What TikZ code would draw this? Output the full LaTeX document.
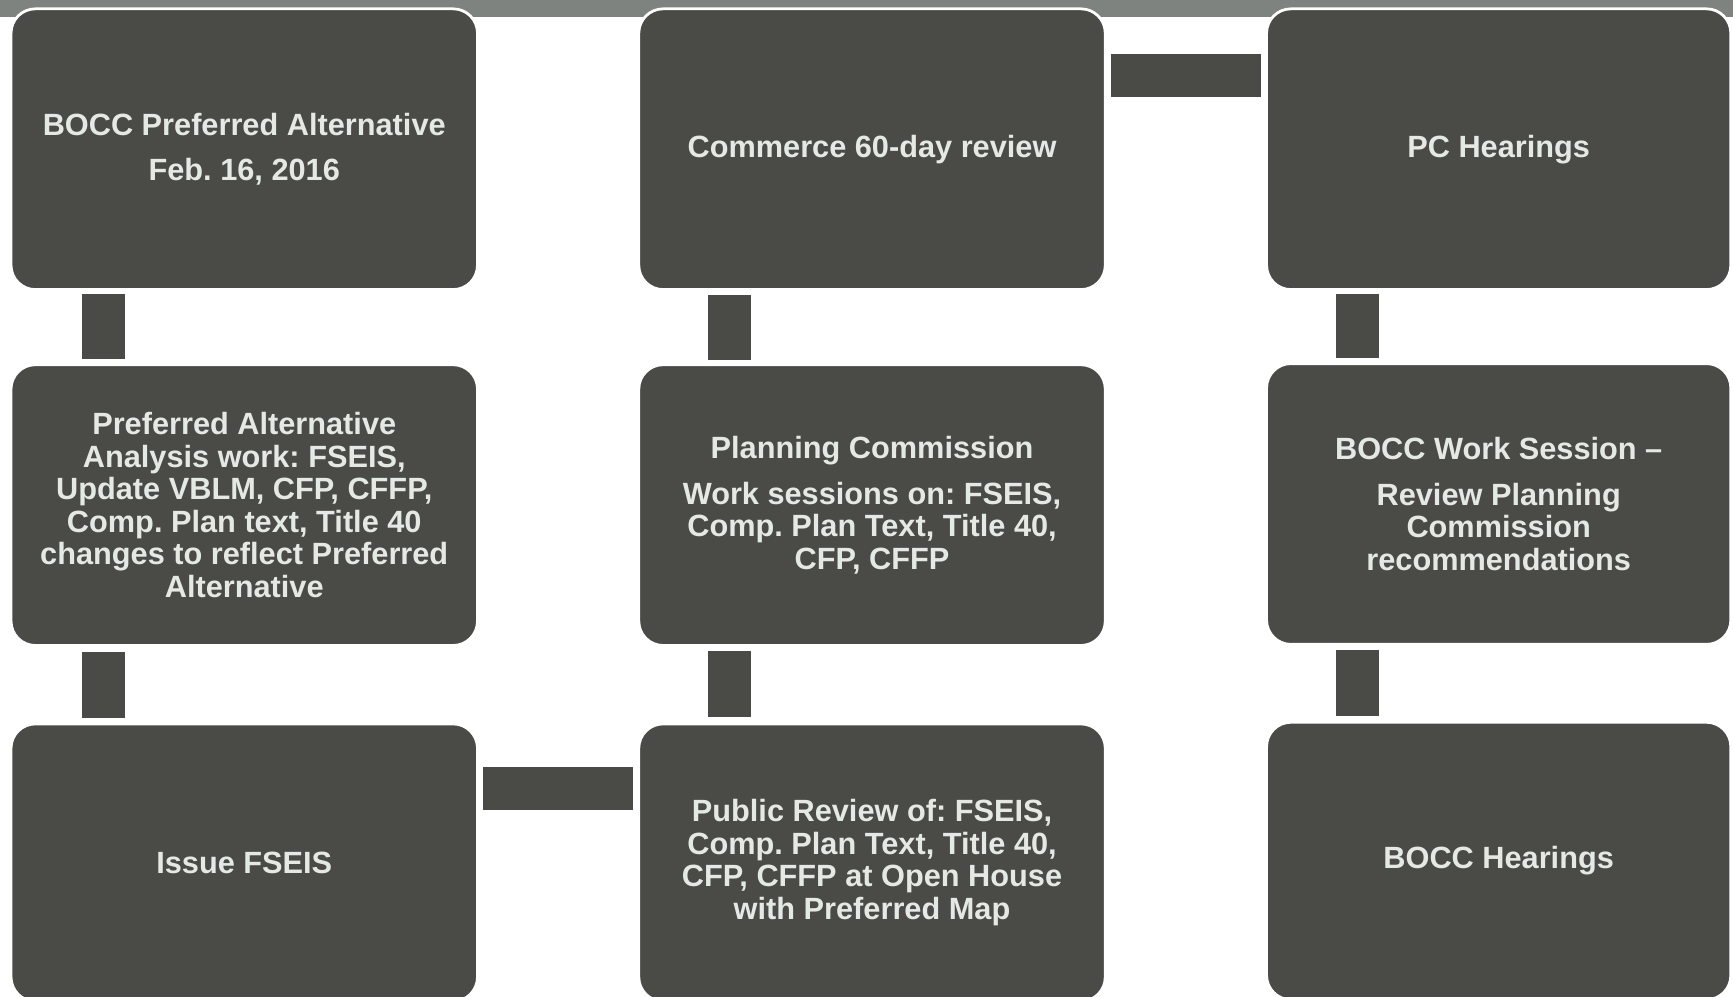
\documentclass[tikz,border=0pt]{standalone}
\usepackage{fontspec}
\setmainfont{Liberation Sans}
\definecolor{boxfill}{HTML}{4A4A47}
\definecolor{boxtext}{HTML}{E4E9E4}
\definecolor{band}{HTML}{7E8380}
\begin{document}
\begin{tikzpicture}[x=1pt,y=-1pt,
  stage/.style={draw=white,line width=2.5pt,fill=boxfill,rounded corners=22pt,
    minimum width=422pt,minimum height=254pt,inner sep=0pt,
    text=boxtext,align=center,font=\frenchspacing\bfseries\fontsize{27.8pt}{29.4pt}\selectfont},
  conn/.style={draw=boxfill,line width=39pt,line cap=butt}]
\useasboundingbox (0,0) rectangle (1568,902);
\clip (0,0) rectangle (1568,902);
\fill[white] (0,0) rectangle (1568,902);
\fill[band] (0,0) rectangle (1568,15);
% row 1
\node[stage] (a1) at (221,135) {BOCC Preferred Alternative\\[10.6pt]Feb. 16, 2016};
\node[stage] (b1) at (789,135) {Commerce 60-day review};
\node[stage,minimum width=420pt] (c1) at (1356,135) {PC Hearings};
% row 2
\node[stage] (a2) at (221,457) {Preferred Alternative\\Analysis work: FSEIS,\\Update VBLM, CFP, CFFP,\\Comp. Plan text, Title 40\\changes to reflect Preferred\\Alternative};
\node[stage] (b2) at (789,457) {Planning Commission\\[11.6pt]Work sessions on: FSEIS,\\Comp. Plan Text, Title 40,\\CFP, CFFP};
\node[stage,minimum width=420pt] (c2) at (1356,456) {BOCC Work Session --\\[11.6pt]Review Planning\\Commission\\recommendations};
% row 3
\node[stage,minimum height=251pt] (a3) at (221,780.5) {Issue FSEIS};
\node[stage,minimum height=251pt] (b3) at (789,780.5) {Public Review of: FSEIS,\\Comp. Plan Text, Title 40,\\CFP, CFFP at Open House\\with Preferred Map};
\node[stage,minimum height=251pt,minimum width=420pt] (c3) at (1356,779) {BOCC Hearings};
% connectors
\draw[conn,shorten <=3pt,shorten >=4pt] ([xshift=84.5pt]a1.south west) -- ([xshift=84.5pt]a2.north west);
\draw[conn,shorten <=5pt,shorten >=4pt] ([xshift=84.5pt]a2.south west) -- ([xshift=84.5pt]a3.north west);
\draw[conn,shorten <=4pt,shorten >=4pt] ([yshift=-59.5pt]a3.north east) -- ([yshift=-59.5pt]b3.north west);
\draw[conn,shorten <=5pt,shorten >=4pt] ([xshift=83.5pt]b3.north west) -- ([xshift=83.5pt]b2.south west);
\draw[conn,shorten <=3pt,shorten >=4pt] ([xshift=83.5pt]b2.north west) -- ([xshift=83.5pt]b1.south west);
\draw[conn,shorten <=4pt,shorten >=4pt] ([yshift=-61.5pt]b1.north east) -- ([yshift=-61.5pt]c1.north west);
\draw[conn,shorten <=3pt,shorten >=4pt] ([xshift=83.5pt]c1.south west) -- ([xshift=83.5pt]c2.north west);
\draw[conn,shorten <=4pt,shorten >=4pt] ([xshift=83.5pt]c2.south west) -- ([xshift=83.5pt]c3.north west);
\end{tikzpicture}
\end{document}
